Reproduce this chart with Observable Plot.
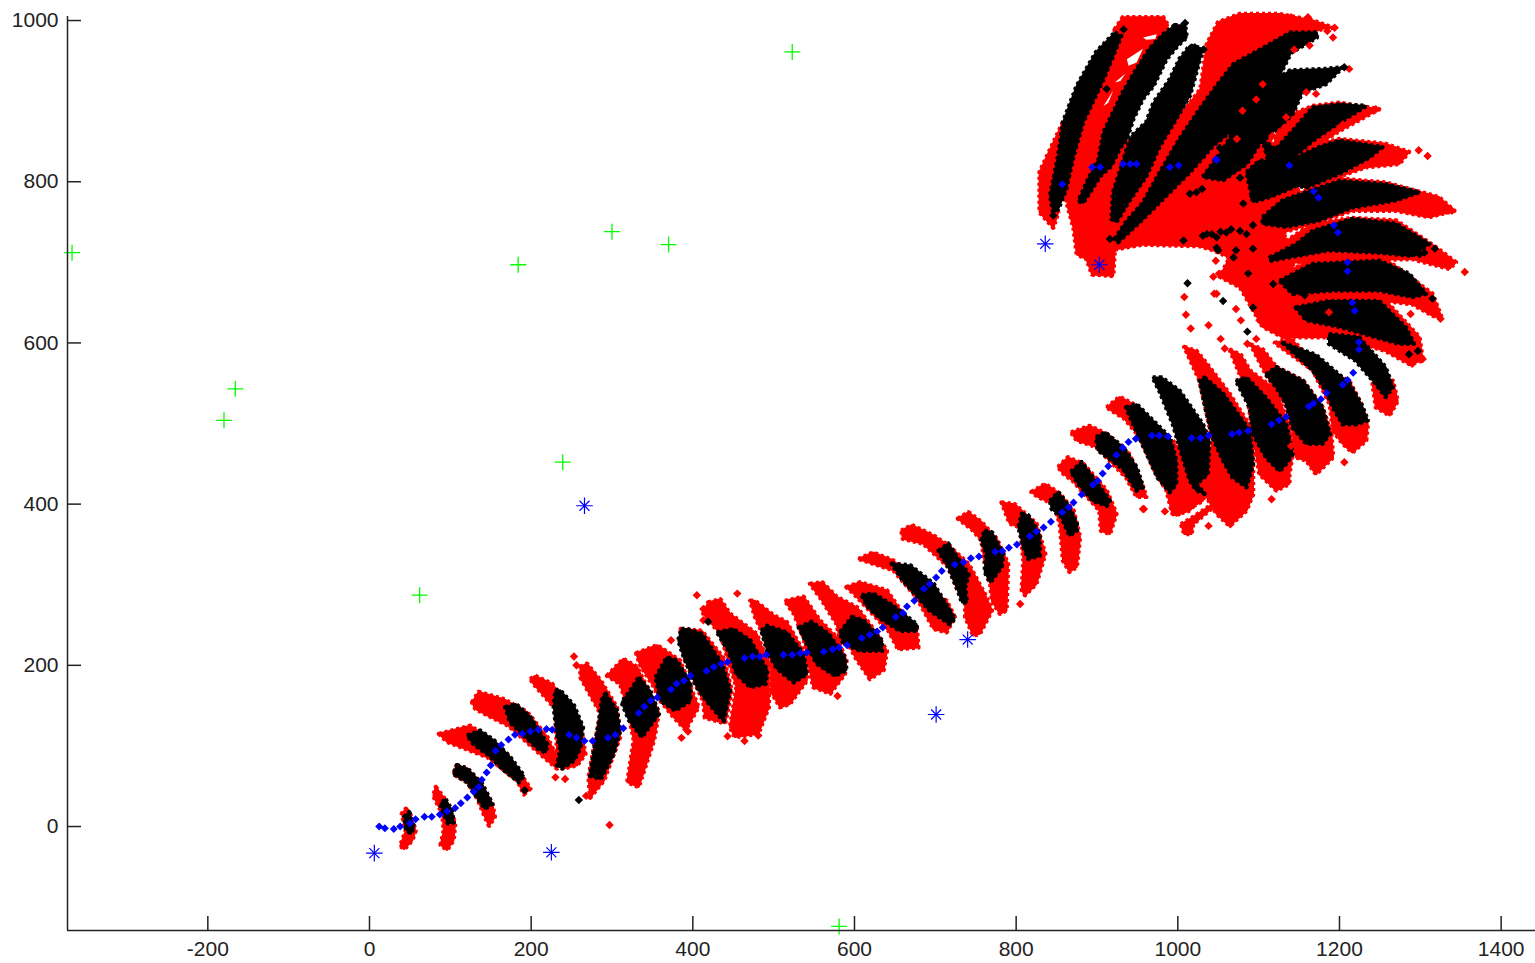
<!DOCTYPE html>
<html>
<head>
<meta charset="utf-8">
<style>
html,body{margin:0;padding:0;background:#fff;overflow:hidden}
svg{display:block}
</style>
<script src="https://cdn.jsdelivr.net/npm/d3@7"></script>
<script src="https://cdn.jsdelivr.net/npm/@observablehq/plot@0.6"></script>
</head>
<body>
<div id="chart"></div>
<script>
const xTicks = [-200,0,200,400,600,800,1000,1200,1400];
const yTicks = [0,200,400,600,800,1000];

// Outlines of the particle clouds (data units)
const redClouds = [
 // fan base
 [[863,772],[871,743],[875,710],[887,704],[894,685],[920,683],[922,716],[957,722],[1027,720],[1044,715],[1064,706],[1052,682],[1077,669],[1105,620],[1138,603],[1146,644],[1142,698],[1130,740],[1150,790],[1138,820],[1115,850],[1105,880],[1090,905],[1110,950],[1150,980],[1180,990],[1192,991],[1167,1000],[1126,1008],[1076,1008],[1050,998],[1036,971],[1028,915],[986,859],[945,852],[925,848],[891,822]],
 // path clouds
 [[45,22],[51,14],[57,-5],[53,-17],[43,-28],[38,-24],[45,-5],[40,16]],
 [[82,49],[92,36],[106,5],[104,-17],[96,-29],[88,-23],[92,-5],[90,16],[79,38]],
 [[108,76],[121,72],[139,53],[152,28],[155,12],[148,1],[141,16],[133,36],[121,55],[104,65]],
 [[86,115],[125,125],[133,119],[170,90],[187,65],[199,47],[191,40],[183,57],[146,86],[96,105]],
 [[127,154],[135,167],[166,158],[195,142],[220,111],[226,98],[236,78],[232,72],[211,90],[172,125],[146,138],[131,146]],
 [[199,183],[205,187],[226,177],[244,152],[261,127],[267,90],[257,76],[240,72],[232,94],[230,146],[203,177]],
 [[261,198],[269,202],[286,181],[306,148],[310,111],[290,57],[273,36],[271,61],[277,94],[286,140],[261,185]],
 [[294,187],[314,208],[331,198],[358,142],[352,107],[333,49],[319,55],[327,107],[319,148],[310,177]],
 [[330,215],[356,225],[384,206],[407,148],[391,120],[376,136],[360,156],[352,173],[335,200]],
 [[385,245],[411,243],[438,209],[448,169],[440,128],[415,135],[413,155],[405,173],[389,210]],
 [[419,278],[434,282],[446,264],[479,239],[494,202],[494,148],[481,115],[452,111],[446,123],[454,173],[434,239],[413,264]],
 [[471,280],[477,280],[500,262],[516,254],[541,210],[541,181],[520,152],[508,148],[498,165],[498,198],[492,227],[477,260]],
 [[514,280],[537,285],[557,256],[578,235],[590,206],[588,189],[570,165],[549,173],[543,202],[537,235],[525,264]],
 [[545,301],[560,303],[578,285],[603,272],[625,243],[640,218],[636,194],[619,183],[601,210],[595,222],[582,231],[578,251],[557,285]],
 [[590,297],[607,303],[640,293],[660,264],[677,247],[679,222],[654,220],[642,243],[611,276],[599,289]],
 [[605,332],[623,340],[648,330],[681,301],[714,280],[724,260],[714,241],[698,245],[677,284],[648,318]],
 [[658,367],[671,374],[698,361],[716,349],[741,326],[761,289],[770,268],[755,239],[747,237],[737,260],[737,276],[726,297],[716,322],[685,351],[660,357]],
 [[728,382],[741,390],[757,378],[776,357],[790,326],[788,268],[780,264],[770,280],[768,301],[763,314],[757,355],[745,369]],
 [[782,402],[798,400],[825,376],[836,338],[825,301],[811,287],[807,293],[809,330],[805,371],[792,376]],
 [[819,415],[836,425],[854,413],[871,392],[879,359],[875,322],[866,316],[858,330],[854,376],[846,400],[827,409]],
 [[852,446],[864,458],[883,450],[912,417],[924,388],[916,363],[905,367],[903,392],[870,429],[858,438]],
 [[868,489],[891,497],[912,487],[940,462],[957,421],[961,409],[949,409],[936,433],[899,471],[875,479]],
 [[912,520],[928,533],[949,522],[986,483],[1000,454],[1031,413],[1015,392],[994,386],[986,417],[973,438],[953,483],[934,506]],
 [[994,479],[1006,458],[1015,433],[1033,413],[1031,404],[998,386],[992,392],[990,413]],
 [[1004,375],[1019,384],[1043,400],[1041,394],[1019,375],[1017,363],[1008,363]],
 [[1008,595],[1023,590],[1033,578],[1064,537],[1093,491],[1093,445],[1093,412],[1085,392],[1064,373],[1048,388],[1033,413],[1023,425],[1035,437],[1043,479],[1027,553]],
 [[1064,592],[1078,585],[1089,566],[1122,541],[1138,495],[1142,462],[1138,437],[1138,425],[1122,417],[1101,437],[1093,487],[1085,541]],
 [[1090,598],[1105,592],[1122,570],[1155,553],[1179,520],[1190,487],[1192,458],[1171,437],[1159,454],[1146,458],[1142,491],[1134,524],[1109,561]],
 [[1120,600],[1140,605],[1171,574],[1212,553],[1227,524],[1235,499],[1233,479],[1216,464],[1204,475],[1192,491],[1188,524],[1167,566]],
 [[1241,549],[1266,553],[1272,528],[1262,510],[1245,520]],
 // fan tines
 [[1121,652],[1253,657],[1299,607],[1303,578],[1286,574],[1257,590],[1200,607],[1142,607],[1121,615]],
 [[1105,677],[1187,710],[1249,710],[1315,661],[1327,630],[1315,634],[1290,648],[1249,653],[1187,648],[1126,640]],
 [[1109,710],[1167,748],[1216,755],[1270,752],[1319,719],[1344,700],[1336,692],[1290,704],[1187,702],[1113,698]],
 [[1101,756],[1146,783],[1200,804],[1257,799],[1323,781],[1342,764],[1311,756],[1270,764],[1216,764],[1167,748],[1109,731]],
 [[1142,818],[1175,847],[1200,853],[1257,847],[1286,837],[1274,822],[1233,818],[1204,808],[1159,789]],
 [[1117,838],[1125,870],[1142,884],[1167,894],[1200,898],[1249,890],[1200,863],[1167,842],[1138,820]],
 // left fan edge and the band between the first two tines
 [[858,874],[842,840],[829,812],[829,762],[846,743],[852,762],[842,783],[852,832]],
 [[922,989],[932,1004],[982,1004],[988,994],[982,983],[965,965],[949,940],[932,911],[908,861],[902,828],[889,803],[877,776],[864,774],[858,783],[871,832],[883,874],[908,927],[920,956]]
];
const whiteSlits = [
 [[937,952],[957,965],[949,948],[939,944]],
 [[957,979],[974,983],[972,977],[961,976]],
 [[922,923],[935,934],[929,925]],
 [[908,894],[920,913],[914,898]]
];
const blackClouds = [
 [[49,18],[55,-1],[51,-9],[45,-3],[43,12]],
 [[94,34],[102,20],[104,5],[97,4],[90,20],[88,28]],
 [[108,76],[121,72],[139,53],[152,28],[143,22],[133,36],[121,55],[104,65]],
 [[121,113],[137,119],[154,107],[174,86],[191,63],[185,55],[166,70],[148,88],[129,102]],
 [[168,148],[181,152],[199,136],[220,102],[218,92],[209,96],[191,113],[174,129]],
 [[230,169],[236,169],[253,150],[264,123],[261,98],[253,82],[238,72],[232,76],[236,94],[232,115],[228,148]],
 [[292,165],[306,144],[310,119],[302,90],[286,59],[273,63],[277,90],[284,131],[288,160]],
 [[333,185],[347,169],[358,140],[337,111],[321,132],[312,154],[323,169]],
 [[354,185],[368,210],[380,206],[397,177],[397,156],[378,144],[360,156]],
 [[386,245],[393,245],[411,239],[436,202],[446,169],[438,131],[417,156],[405,173],[389,210],[382,231]],
 [[430,241],[450,245],[471,231],[492,194],[490,177],[471,173],[454,189],[444,218]],
 [[485,243],[492,249],[516,241],[537,214],[541,189],[525,179],[504,196],[492,218]],
 [[531,247],[547,254],[568,239],[588,210],[590,194],[576,187],[553,202],[541,227]],
 [[597,260],[611,256],[634,231],[634,218],[607,218],[586,227],[582,241]],
 [[609,287],[623,289],[648,274],[677,251],[677,243],[656,243],[632,258],[615,274]],
 [[646,326],[669,324],[698,301],[724,258],[718,251],[693,268],[660,305]],
 [[704,342],[716,351],[741,313],[737,297],[739,278],[733,278],[728,293],[716,322]],
 [[761,367],[770,365],[784,338],[782,322],[768,303],[761,316],[763,338],[757,355]],
 [[807,388],[815,386],[829,363],[829,336],[815,332],[809,347],[803,371]],
 [[842,404],[852,415],[866,396],[875,376],[875,367],[866,361],[856,384],[844,394]],
 [[868,440],[881,452],[895,433],[916,404],[912,398],[895,404],[877,425]],
 [[899,483],[910,489],[932,471],[949,446],[957,421],[949,417],[932,444],[901,467]],
 [[936,520],[949,524],[990,483],[998,454],[998,425],[990,415],[975,433],[945,499]],
 [[969,557],[980,557],[1002,541],[1031,499],[1039,479],[1037,437],[1023,425],[1033,413],[1023,417],[1015,429],[1006,458],[994,499],[977,541]],
 [[1033,557],[1056,537],[1089,491],[1093,450],[1085,421],[1068,433],[1056,454],[1043,483],[1035,516],[1027,553]],
 [[1072,553],[1085,557],[1109,532],[1134,499],[1142,462],[1134,450],[1126,441],[1109,458],[1093,487],[1089,520]],
 [[1109,561],[1122,570],[1155,553],[1179,520],[1188,487],[1179,475],[1159,475],[1142,495],[1134,524],[1122,545]],
 [[1130,600],[1171,585],[1212,550],[1227,524],[1235,504],[1221,499],[1204,499],[1192,520],[1183,541],[1167,566]],
 [[1187,611],[1224,607],[1257,570],[1266,545],[1257,533],[1245,549],[1220,578],[1187,599]],
 [[1146,644],[1187,652],[1249,652],[1282,619],[1292,599],[1274,599],[1245,607],[1200,620],[1159,628]],
 [[1126,677],[1167,698],[1249,702],[1286,686],[1307,661],[1290,657],[1249,665],[1192,665],[1142,661]],
 [[1114,706],[1147,723],[1167,739],[1216,754],[1270,748],[1311,723],[1290,708],[1249,712],[1187,715],[1114,702]],
 [[1105,756],[1130,777],[1159,787],[1200,801],[1257,797],[1299,787],[1270,777],[1216,768],[1175,752],[1134,744],[1105,748]],
 [[1085,812],[1101,826],[1134,826],[1146,830],[1175,843],[1200,851],[1253,843],[1237,830],[1200,810],[1159,793],[1147,795],[1114,781],[1093,775]],
 [[1105,852],[1121,840],[1142,863],[1167,892],[1200,896],[1233,894],[1196,871],[1167,851],[1138,826],[1113,822]],
 [[1031,806],[1056,840],[1077,876],[1089,885],[1106,917],[1139,938],[1183,940],[1204,942],[1183,921],[1154,911],[1142,884],[1134,876],[1101,847],[1085,822],[1056,802]],
 [[922,729],[936,750],[957,774],[978,812],[1002,853],[1027,890],[1048,919],[1069,946],[1102,964],[1139,985],[1172,985],[1172,979],[1140,960],[1125,930],[1105,900],[1064,861],[1044,845],[1015,812],[982,779],[953,750],[926,725]],
 [[1031,965],[1023,936],[1015,907],[998,878],[978,845],[961,807],[941,778],[924,750],[918,754],[920,787],[932,824],[937,841],[943,857],[961,874],[970,898],[990,927],[1002,952],[1015,969]],
 [[996,994],[1009,994],[1011,979],[1000,969],[986,952],[970,919],[957,903],[945,878],[937,853],[928,841],[918,820],[904,807],[883,774],[877,776],[889,803],[902,828],[908,861],[932,911],[949,940],[965,965],[982,983]],
 [[922,985],[930,981],[920,956],[908,927],[883,874],[871,832],[862,791],[852,766],[846,762],[842,783],[852,832],[858,874],[875,919],[899,961]]
];
const redStrayX = [230,242,268,297,253,256,373,386,394,405,413,413,455,443,464,481,579,805,958,957,984,1038,1065,1116,1140,1151,1206,1298,1309,1355,1097,1073,1134,1132,1080,1117,1105,1163,1144,1192,1185,1194,1167,1161,1140,1150,1212,1171,1159,1245,1204,1008,1010,1016,1038,1053,1058,1047,1051,1045,1072,1078,1101,1086,1097,1044,1048,1288,1315,1325,1303,1290,1332,1339,1338,1187,1174,1109,1097];
const redStrayY = [61,59,38,2,211,200,231,110,118,287,270,256,289,112,106,113,162,276,394,394,391,373,375,406,472,460,452,839,832,688,902,853,880,867,888,857,921,969,964,979,987,991,995,1004,1004,991,940,909,911,890,871,657,635,618,622,605,593,702,686,661,642,628,628,599,605,682,661,636,640,630,580,574,764,764,698,638,613,717,715];
const blackStrayX = [192,259,419,1023,1015,1030,1093,1102,1089,1077,1073,1052,1036,1048,1060,1048,1069,1007,916,912,933,1009,846,1032,1206,1012,1056,1086,1093,1081,1093,1031,1042,1053,1066,1077,1085,1050,1072,1093,1087,1118,1157,1318,1299,1305,1315,1286,1297,1169,1021];
const blackStrayY = [45,33,254,787,785,791,782,784,809,805,826,842,735,731,737,718,706,727,729,915,989,997,758,964,942,674,652,614,644,773,746,733,735,738,741,739,735,715,715,717,686,673,659,717,710,712,655,586,590,983,967];
const pathX = [12,19,30,38,50,57,68,77,87,96,106,113,121,129,135,139,145,150,156,163,172,180,189,199,209,219,226,247,256,266,276,295,304,314,333,340,348,356,373,380,389,397,417,426,435,443,464,474,483,491,512,523,533,541,562,573,581,591,609,619,628,635,651,660,665,674,686,693,701,708,724,735,744,754,774,783,791,801,817,825,834,843,857,865,871,881,895,901,907,914,924,932,939,948,968,977,988,1017,1028,1038,1067,1076,1087,1116,1125,1134,1162,1168,1177,1184,1204,1210,1217,1224,1224,1216,1219,1210,1210,1193,1198,1168,1174,1138,1047,1048,1001,990,949,941,932,894,904,857];
const pathY = [0,-2,-3,0,4,9,12,12,15,19,23,29,36,43,49,58,67,76,94,101,108,114,115,118,120,121,120,114,110,106,106,110,114,122,141,149,156,160,170,177,181,187,193,198,202,204,209,211,211,213,213,213,215,216,217,220,222,225,234,238,242,247,260,265,273,280,295,301,309,317,325,328,333,335,341,342,346,350,360,366,371,378,390,396,402,412,424,429,438,447,461,470,477,481,485,485,484,482,482,485,487,489,491,499,504,508,521,525,530,538,548,554,563,601,592,650,640,700,689,746,737,788,780,820,828,827,820,818,822,822,822,818,818,797];
const starX = [6,225,266,701,740,836,903];
const starY = [-33,-32,398,139,232,723,697];
const plusX = [-368,-180,-166,62,184,239,300,370,523,581];
const plusY = [712,504,543,287,697,452,738,722,961,-124];

const xMin = -373.6, xMax = 1442.5, yMin = -129, yMax = 1005;
const ink = "#222";
const pts = (xs, ys) => xs.map((x, i) => ({x, y: ys[i]}));
const outlines = list => list.flatMap((poly, id) => poly.map(([x, y]) => ({id, x, y})));

const cloud = (list, color) => [
  Plot.line(outlines(list), {x:"x", y:"y", z:"id", curve:"linear-closed", fill:color, stroke:color, strokeWidth:2, strokeLinejoin:"round"}),
  Plot.line(outlines(list), {x:"x", y:"y", z:"id", curve:"linear-closed", stroke:color, strokeWidth:4.5, strokeDasharray:"3 3", strokeLinecap:"butt"})
];

const chart = Plot.plot({
  width:1535, height:963,
  marginLeft:67, marginRight:0, marginTop:16, marginBottom:33,
  style:{background:"#fff", fontFamily:"'Liberation Sans', Arial, sans-serif", overflow:"visible"},
  x:{domain:[xMin,xMax], range:[67,1535]},
  y:{domain:[yMin,yMax], range:[930,16]},
  marks:[
    ...cloud(redClouds, "#ff0000"),
    Plot.line(outlines(whiteSlits), {x:"x", y:"y", z:"id", curve:"linear-closed", fill:"#fff", stroke:"none"}),
    ...cloud(blackClouds, "#000"),
    Plot.dot(pts(redStrayX, redStrayY), {x:"x", y:"y", symbol:"diamond2", r:3.8, fill:"#ff0000", stroke:"none"}),
    Plot.dot(pts(blackStrayX, blackStrayY), {x:"x", y:"y", symbol:"diamond2", r:3.8, fill:"#000", stroke:"none"}),
    Plot.dot(pts(pathX, pathY), {x:"x", y:"y", symbol:"diamond2", r:3.6, fill:"#0000ff", stroke:"none"}),
    Plot.dot(pts(starX, starY), {x:"x", y:"y", symbol:"plus", r:5.4, stroke:"#0000ff", strokeWidth:1.2}),
    Plot.dot(pts(starX, starY), {x:"x", y:"y", symbol:"times", r:4.6, stroke:"#0000ff", strokeWidth:1.2}),
    Plot.dot(pts(plusX, plusY), {x:"x", y:"y", symbol:"plus", r:5.2, stroke:"#00ff00", strokeWidth:1.3}),
    Plot.ruleX([xMin], {stroke:ink, strokeWidth:1.5}),
    Plot.ruleY([yMin], {stroke:ink, strokeWidth:1.5}),
    Plot.axisX({ticks:xTicks, tickSize:-14, tickPadding:25, tickFormat:String, fontSize:21, anchor:"bottom", label:null, stroke:ink, strokeWidth:1.5, fill:ink, strokeOpacity:1}),
    Plot.axisY({ticks:yTicks, tickSize:-14, tickPadding:23, tickFormat:String, fontSize:21, anchor:"left", label:null, stroke:ink, strokeWidth:1.5, fill:ink, strokeOpacity:1})
  ]
});
document.getElementById("chart").appendChild(chart);
</script>
</body>
</html>
